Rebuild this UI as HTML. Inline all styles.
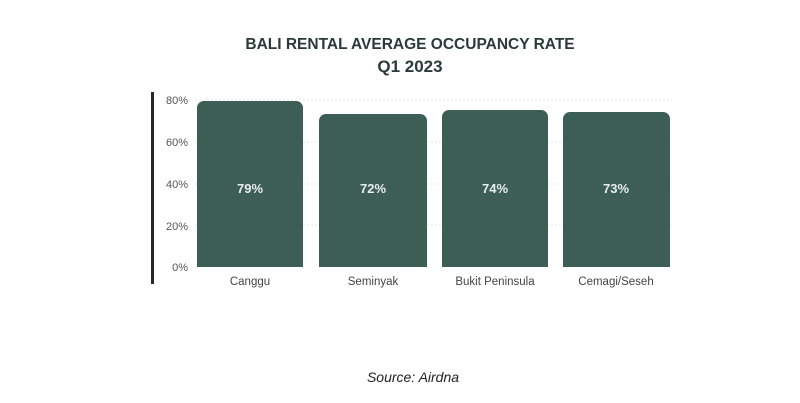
<!DOCTYPE html>
<html><head><meta charset="utf-8"><style>
html,body{margin:0;padding:0;background:#fff;width:800px;height:403px;overflow:hidden}
</style></head><body>
<svg width="800" height="403" xmlns="http://www.w3.org/2000/svg" font-family="Liberation Sans, sans-serif">
<text x="410" y="49" text-anchor="middle" font-size="15.5" font-weight="bold" fill="#2a3a38">BALI RENTAL AVERAGE OCCUPANCY RATE</text>
<text x="410" y="72" text-anchor="middle" font-size="17" font-weight="bold" fill="#2a3a38">Q1 2023</text>
<rect x="151" y="92" width="3" height="192" fill="#1f2a29"/>
<g stroke="#e3e3e3" stroke-dasharray="2,2" stroke-width="1">
<line x1="195" x2="672" y1="100" y2="100"/>
<line x1="195" x2="672" y1="142" y2="142"/>
<line x1="195" x2="672" y1="184" y2="184"/>
<line x1="195" x2="672" y1="225" y2="225"/>
</g>
<g font-size="11" fill="#555" text-anchor="end">
<text x="188" y="104">80%</text>
<text x="188" y="146">60%</text>
<text x="188" y="188">40%</text>
<text x="188" y="230">20%</text>
<text x="188" y="271">0%</text>
</g>
<g fill="#3c5e55">
<path d="M197 267V108a7 7 0 0 1 7-7H296a7 7 0 0 1 7 7V267Z"/>
<path d="M319 267V121a7 7 0 0 1 7-7H420a7 7 0 0 1 7 7V267Z"/>
<path d="M442 267V117a7 7 0 0 1 7-7H541a7 7 0 0 1 7 7V267Z"/>
<path d="M563 267V119a7 7 0 0 1 7-7H663a7 7 0 0 1 7 7V267Z"/>
</g>
<g font-size="13" font-weight="bold" fill="#e8eeec" text-anchor="middle">
<text x="250" y="193">79%</text>
<text x="373" y="193">72%</text>
<text x="495" y="193">74%</text>
<text x="616" y="193">73%</text>
</g>
<g font-size="11.5" fill="#444" text-anchor="middle">
<text x="250" y="285">Canggu</text>
<text x="373" y="285">Seminyak</text>
<text x="495" y="285">Bukit Peninsula</text>
<text x="616" y="285">Cemagi/Seseh</text>
</g>
<text x="413" y="382" text-anchor="middle" font-size="14" font-style="italic" fill="#222">Source: Airdna</text>
</svg>
</body></html>
